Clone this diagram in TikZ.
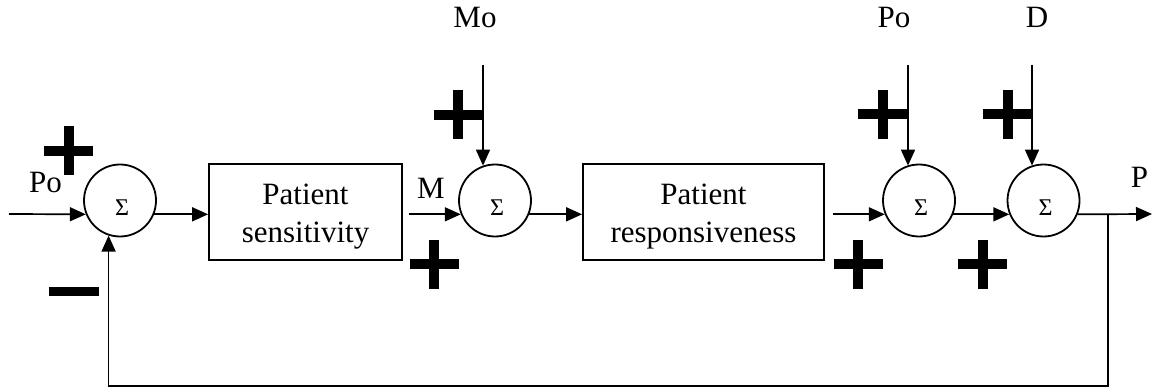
\documentclass[tikz,border=0pt]{standalone}
\usepackage{fontspec}
\setmainfont{Liberation Serif}
\usetikzlibrary{arrows.meta,calc}
\begin{document}
\begin{tikzpicture}[x=1pt,y=-1pt,
  line width=1.7pt,
  arr/.style={-{Triangle[length=16pt,width=14pt]}},
  sumc/.style={circle,draw,line width=1.8pt,minimum size=72pt,inner sep=0pt},
  sig/.style={inner sep=0pt,font=\fontsize{24}{24}\selectfont},
  blk/.style={rectangle,draw,line width=1.8pt,inner sep=0pt,align=center,minimum height=96pt,font=\fontsize{31}{38}\selectfont},
  lbl/.style={anchor=base,inner sep=0pt,font=\fontsize{31}{31}\selectfont},
  plussign/.pic={\fill (-24.5,-5) rectangle (24.5,5); \fill (-5,-24.5) rectangle (5,24.5);},
  minussign/.pic={\fill (-25,-4.5) rectangle (25,4.5);}
]
\useasboundingbox (0,0) rectangle (1153,390);

% summing junctions
\node[sumc] (s1) at (120,200.5) {};
\node[sumc] (s2) at (495,200.5) {};
\node[sumc] (s3) at (919,200.5) {};
\node[sumc] (s4) at (1043.5,200.5) {};
\node[sig] (g1) at ($(s1)+(2,7)$) {Σ};
\node[sig] (g2) at ($(s2)+(2,7)$) {Σ};
\node[sig] (g3) at ($(s3)+(2,7)$) {Σ};
\node[sig] (g4) at ($(s4)+(2,7)$) {Σ};

% blocks
\node[blk,minimum width=193pt] (b1) at (305.5,212) {\rule{0pt}{29pt}Patient\\sensitivity};
\node[blk,minimum width=241pt] (b2) at (703.5,212) {\rule{0pt}{29pt}Patient\\responsiveness};

% labels
\node[lbl] (lpo) at (45.5,193) {Po};
\node[lbl] (lm) at (431,199) {M};
\node[lbl] (lmo) at (475,28) {Mo};
\node[lbl] (lpo2) at (894,28) {Po};
\node[lbl] (ld) at (1037,28) {D};
\node[lbl] (lp) at (1139.5,188) {P};

% free ends
\coordinate (pin) at (9,214);
\coordinate (pout) at (1152,214);
\coordinate (mo) at (483,65);
\coordinate (po) at (908,65);
\coordinate (dd) at (1032,65);
\coordinate (fb) at (1108,214);

% connectors
\draw[arr] (pin) -- (s1.202);
\draw[arr] (s1.338) -- (s1.338 -| b1.west);
\draw[arr,shorten <=6pt] (s2.202 -| b1.east) -- (s2.202);
\draw[arr] (s2.338) -- (s2.338 -| b2.west);
\draw[arr,shorten <=8pt] (s3.202 -| b2.east) -- (s3.202);
\draw[arr] (s3.338) -- (s4.202);
\draw[arr] (s4.338) -- (pout);
\draw[arr] (mo) -- (mo |- s2.109.5);
\draw[arr] (po) -- (po |- s3.109.5);
\draw[arr] (dd) -- (dd |- s4.109.5);
\draw[arr] (fb) -- ++(0,172) -| (s1.252);

% signs
\pic at (68.5,151) {plussign};
\pic at (74,291) {minussign};
\pic at (458,115) {plussign};
\pic at (434,264) {plussign};
\pic at (882.5,114.5) {plussign};
\pic at (858,264) {plussign};
\pic at (1007.5,114.5) {plussign};
\pic at (982.5,264) {plussign};
\end{tikzpicture}
\end{document}
